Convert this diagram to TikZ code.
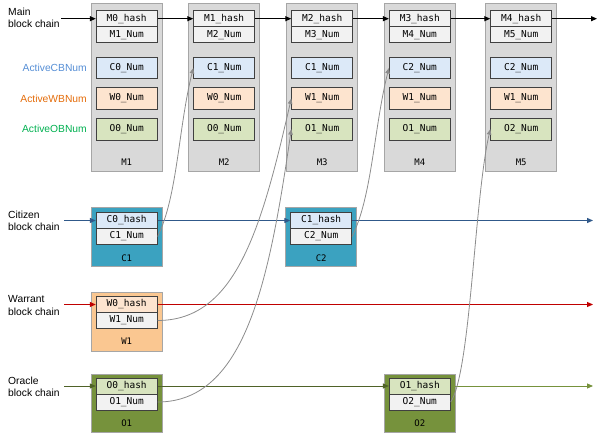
\documentclass[tikz,border=0pt]{standalone}
\usepackage{fontspec}
\setmainfont{Liberation Sans}
\newfontfamily\monofont{DejaVu Sans Mono}
\usetikzlibrary{arrows.meta}
\definecolor{blockfill}{HTML}{D9D9D9}
\definecolor{blockdraw}{HTML}{A6A6A6}
\definecolor{cellfill}{HTML}{F2F2F2}
\definecolor{celldraw}{HTML}{404040}
\definecolor{cbfill}{HTML}{DCE9F8}
\definecolor{wbfill}{HTML}{FDE4CF}
\definecolor{obfill}{HTML}{D8E4BF}
\definecolor{citfill}{HTML}{3BA2C0}
\definecolor{warfill}{HTML}{FAC791}
\definecolor{orafill}{HTML}{76923C}
\definecolor{citline}{HTML}{30598A}
\definecolor{warline}{HTML}{C00000}
\definecolor{oraline}{HTML}{4F6228}
\definecolor{oraline2}{HTML}{76923C}
\definecolor{linkgray}{HTML}{8C8C8C}
\definecolor{cbtext}{HTML}{558ED5}
\definecolor{wbtext}{HTML}{E46C0A}
\definecolor{obtext}{HTML}{00B050}
\begin{document}
\begin{tikzpicture}[x=1pt,y=-1pt,
  block/.style={draw=blockdraw, line width=1pt, minimum width=71pt, inner sep=0pt},
  cell/.style={draw=celldraw, line width=0.8pt, fill=cellfill, minimum width=61pt,
     minimum height=16pt, inner sep=0pt, font=\monofont\fontsize{9.5}{10}\selectfont},
  tallcell/.style={cell, minimum height=21.5pt},
  blabel/.style={inner sep=0pt, font=\monofont\fontsize{9}{10}\selectfont},
  chainlbl/.style={align=left, anchor=west, inner sep=0pt,
     font=\fontsize{10.3}{12.5}\selectfont},
  actlbl/.style={anchor=east, inner sep=0pt, font=\fontsize{10.3}{12}\selectfont},
  mainarrow/.style={draw=black, line width=1pt, -{Triangle[length=6pt,width=5pt]}},
  citarrow/.style={draw=citline, line width=1.2pt, -{Triangle[length=6pt,width=5pt]}},
  wararrow/.style={draw=warline, line width=1pt, -{Triangle[length=6pt,width=5pt]}},
  oraarrow/.style={draw=oraline, line width=1pt, -{Triangle[length=6pt,width=5pt]}},
  ora2arrow/.style={draw=oraline2, line width=1pt, -{Triangle[length=6pt,width=5pt]}},
  link/.style={draw=linkgray, line width=0.8pt, -{Triangle[length=5.5pt,width=4.5pt]}}
]
\useasboundingbox (0,0) rectangle (602,435);

% main chain blocks
\foreach \i/\x/\h/\n/\c/\w/\o in {1/126.7/M0/M1/C0/W0/O0, 2/224.2/M1/M2/C1/W0/O0,
   3/322.2/M2/M3/C1/W1/O1, 4/419.8/M3/M4/C2/W1/O1, 5/521.2/M4/M5/C2/W1/O2}{
  \node[block, fill=blockfill, minimum height=168pt] (m\i) at (\x,88) {};
  \node[cell] (m\i-h) at (\x,18.7) {\h\_hash};
  \node[cell] (m\i-n) at (\x,34.7) {\n\_Num};
  \node[tallcell, fill=cbfill] (m\i-c) at (\x,68) {\c\_Num};
  \node[tallcell, fill=wbfill] (m\i-w) at (\x,98.5) {\w\_Num};
  \node[tallcell, fill=obfill] (m\i-o) at (\x,129.2) {\o\_Num};
  \node[blabel] (m\i-l) at (\x,162) {M\i};
}

% citizen blocks
\node[block, fill=citfill, minimum height=59pt] (c1) at (126.7,237.5) {};
\node[cell, fill=cbfill] (c1-h) at (126.7,220.5) {C0\_hash};
\node[cell] (c1-n) at (126.7,236.5) {C1\_Num};
\node[blabel] (c1-l) at (126.7,258) {C1};
\node[block, fill=citfill, minimum height=59pt] (c2) at (321.2,237.5) {};
\node[cell, fill=cbfill] (c2-h) at (321.2,220.5) {C1\_hash};
\node[cell] (c2-n) at (321.2,236.5) {C2\_Num};
\node[blabel] (c2-l) at (321.2,258) {C2};

% warrant block
\node[block, fill=warfill, minimum height=58pt] (w1) at (126.7,322) {};
\node[cell, fill=wbfill] (w1-h) at (126.7,304.5) {W0\_hash};
\node[cell] (w1-n) at (126.7,320.5) {W1\_Num};
\node[blabel] (w1-l) at (126.7,341) {W1};

% oracle blocks
\node[block, fill=orafill, minimum height=58pt] (o1) at (126.7,403) {};
\node[cell, fill=obfill] (o1-h) at (126.7,386) {O0\_hash};
\node[cell] (o1-n) at (126.7,402) {O1\_Num};
\node[blabel] (o1-l) at (126.7,423) {O1};
\node[block, fill=orafill, minimum height=58pt] (o2) at (419.8,403) {};
\node[cell, fill=obfill] (o2-h) at (419.8,386) {O1\_hash};
\node[cell] (o2-n) at (419.8,402) {O2\_Num};
\node[blabel] (o2-l) at (419.8,423) {O2};

% labels
\node[chainlbl] (lmain) at (8,18) {Main\\block chain};
\node[chainlbl] (lcit) at (8,221) {Citizen\\block chain};
\node[chainlbl] (lwar) at (8,305.5) {Warrant\\block chain};
\node[chainlbl] (lora) at (8,387) {Oracle\\block chain};
\node[actlbl, text=cbtext] (acb) at (87,68) {ActiveCBNum};
\node[actlbl, text=wbtext] (awb) at (87,98.5) {ActiveWBNum};
\node[actlbl, text=obtext] (aob) at (87,129.2) {ActiveOBNum};

% chain connectors
\coordinate (mainstart) at (61,18.7);
\coordinate (mainend) at (597,18.7);
\coordinate (citstart) at (64,220.5);
\coordinate (citend) at (593,220.5);
\coordinate (warstart) at (64,304.5);
\coordinate (warend) at (593,304.5);
\coordinate (orastart) at (64,386);
\coordinate (oraend) at (593,386);

\draw[mainarrow] (mainstart) -- (m1-h.west);
\draw[mainarrow] (m1-h.east) -- (m2-h.west);
\draw[mainarrow] (m2-h.east) -- (m3-h.west);
\draw[mainarrow] (m3-h.east) -- (m4-h.west);
\draw[mainarrow] (m4-h.east) -- (m5-h.west);
\draw[mainarrow] (m5-h.east) -- (mainend);

\draw[citarrow] (citstart) -- (c1-h.west);
\draw[citarrow] (c1-h.east) -- (c2-h.west);
\draw[citarrow] (c2-h.east) -- (citend);

\draw[wararrow] (warstart) -- (w1-h.west);
\draw[wararrow] (w1-h.east) -- (warend);

\draw[oraarrow] (orastart) -- (o1-h.west);
\draw[oraarrow] (o1-h.east) -- (o2-h.west);
\draw[ora2arrow] (o2-h.east) -- (oraend);

% reference links
\draw[link] (c1-n.east) .. controls +(20,-40) and +(-15,60) .. (m2-c.west);
\draw[link] (c2-n.east) .. controls +(20,-40) and +(-15,60) .. (m4-c.west);
\draw[link] (w1-n.east) .. controls +(78,0) and +(-30,131) .. (m3-w.west);
\draw[link] (o1-n.east) .. controls +(88,0) and +(-22,151) .. (m3-o.west);
\draw[link] (o2-n.east) .. controls +(20,-30) and +(-16,70) .. (m5-o.west);
\end{tikzpicture}
\end{document}
